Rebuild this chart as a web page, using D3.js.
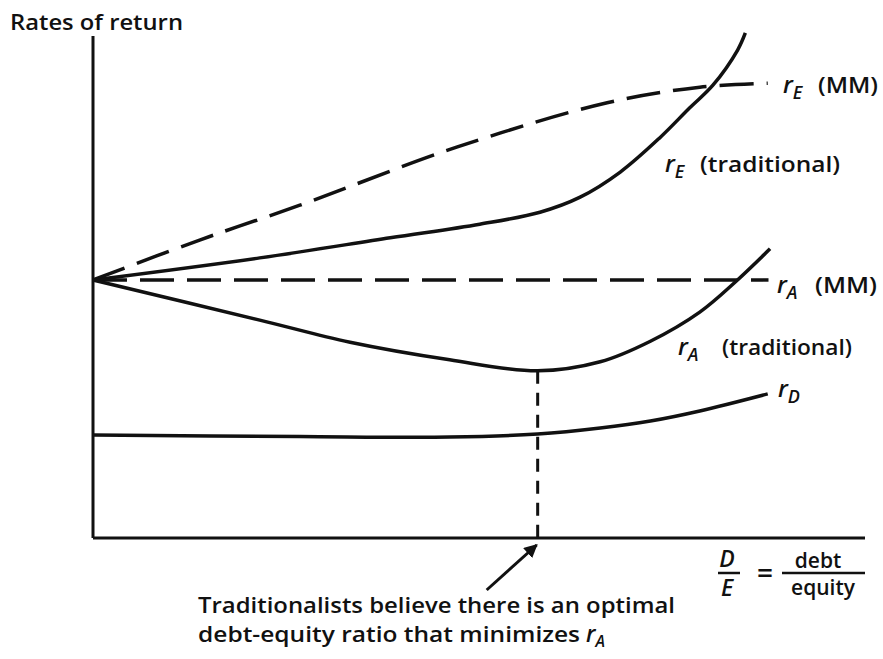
<!DOCTYPE html>
<html>
<head>
<meta charset="utf-8">
<script src="https://cdn.jsdelivr.net/npm/d3@7"></script>
<style>
  body { margin: 0; background: #fff; }
  svg { display: block; }
  text { font-family: "Open Sans", sans-serif; font-weight: 600; fill: #111; }
</style>
</head>
<body>
<svg id="chart" width="883" height="659"></svg>
<script>
// values, x = D/E (0-100), y = rate (0-100), arbitrary units
const rEMM = [[0, 51.4], [13.9, 59.4], [26.8, 66.3], [47.2, 77.9], [66.6, 86.7], [78.6, 89.8], [87.4, 90.6]];
const rETrad = [[0, 51.4], [21.6, 55.8], [38.5, 59.8], [50.1, 62.5], [57.9, 64.9], [63.1, 67.9], [68.3, 72.9], [73.4, 79.7], [77.3, 85.7], [80.3, 90.2], [83.5, 97.2], [84.5, 100.6]];
const rAMM = [[0, 51.4], [87.5, 51.4]];
const rATrad = [[0, 51.4], [21.6, 43.4], [33.3, 39.0], [46.2, 35.5], [57.6, 33.3], [65.7, 35.1], [72.2, 39.2], [78.6, 45.0], [83.2, 51.0], [87.7, 57.6]];
const rD = [[0, 20.5], [26.8, 20.2], [46.2, 20.1], [57.6, 20.7], [65.7, 21.9], [72.2, 23.3], [78.6, 25.3], [87.4, 28.7]];
const optimum = [57.6, 33.3];

const yTitle = 'Rates of return';
const noteLines = ['Traditionalists believe there is an optimal', 'debt-equity ratio that minimizes '];
const curveLabels = [
  { sub: 'E', note: '(MM)' },
  { sub: 'E', note: '(traditional)' },
  { sub: 'A', note: '(MM)' },
  { sub: 'A', note: '(traditional)' },
  { sub: 'D', note: '' }
];

const svg = d3.select('#chart');

const x = d3.scaleLinear().domain([0, 100]).range([93, 865]);
const y = d3.scaleLinear().domain([0, 100]).range([538, 36]);

const line = d3.line()
  .x(d => x(d[0]))
  .y(d => y(d[1]))
  .curve(d3.curveCatmullRom.alpha(0.5));

/* axes */
svg.append('line')
  .attr('x1', x(0)).attr('x2', x(0))
  .attr('y1', y(0)).attr('y2', y(100))
  .attr('stroke', '#111').attr('stroke-width', 3);
svg.append('line')
  .attr('x1', x(0)).attr('x2', x(100))
  .attr('y1', y(0)).attr('y2', y(0))
  .attr('stroke', '#111').attr('stroke-width', 3);

/* curves */
const series = [
  { data: rEMM, dash: '34,13' },
  { data: rETrad, dash: null },
  { data: rAMM, dash: '34,13' },
  { data: rATrad, dash: null },
  { data: rD, dash: null }
];

svg.selectAll('path.curve')
  .data(series)
  .join('path')
  .attr('class', 'curve')
  .attr('d', d => line(d.data))
  .attr('fill', 'none')
  .attr('stroke', '#111')
  .attr('stroke-width', 3.5)
  .attr('stroke-dasharray', d => d.dash);

// drop line from the minimum of rA
svg.append('line')
  .attr('x1', x(optimum[0])).attr('x2', x(optimum[0]))
  .attr('y1', y(optimum[1])).attr('y2', y(0))
  .attr('stroke', '#111').attr('stroke-width', 3)
  .attr('stroke-dasharray', '13,9');

/* labels */
const labelPos = [
  { x: 783, y: 93, nx: 818, w: 60 },
  { x: 665, y: 172, nx: 700, w: 140 },
  { x: 777, y: 293, nx: 815, w: 62 },
  { x: 678, y: 355, nx: 722, w: 130 },
  { x: 778, y: 397, nx: 0, w: 0 }
];

curveLabels.forEach((l, i) => {
  const p = labelPos[i];
  const t = svg.append('text').attr('x', p.x).attr('y', p.y);
  t.append('tspan').text('r').attr('font-style', 'italic').attr('font-size', 24);
  t.append('tspan').text(l.sub).attr('font-style', 'italic').attr('font-size', 18).attr('dy', 6);
  if (l.note) {
    svg.append('text')
      .attr('x', p.nx).attr('y', p.y)
      .attr('font-size', 22)
      .attr('textLength', p.w)
      .attr('lengthAdjust', 'spacingAndGlyphs')
      .text(l.note);
  }
});

svg.append('text')
  .attr('x', 10).attr('y', 30)
  .attr('font-size', 22)
  .attr('textLength', 173)
  .attr('lengthAdjust', 'spacingAndGlyphs')
  .text(yTitle);

/* D/E = debt/equity */
const frac = svg.append('g');
frac.append('text').attr('x', 727).attr('y', 567).attr('text-anchor', 'middle')
  .attr('font-size', 23).attr('font-style', 'italic').text('D');
frac.append('line').attr('x1', 718).attr('x2', 740).attr('y1', 573).attr('y2', 573)
  .attr('stroke', '#111').attr('stroke-width', 2.5);
frac.append('text').attr('x', 727).attr('y', 596).attr('text-anchor', 'middle')
  .attr('font-size', 23).attr('font-style', 'italic').text('E');
frac.append('text').attr('x', 765).attr('y', 583).attr('text-anchor', 'middle')
  .attr('font-size', 28).attr('font-weight', 700).text('=');
frac.append('text').attr('x', 818).attr('y', 568).attr('text-anchor', 'middle')
  .attr('font-size', 21).text('debt');
frac.append('line').attr('x1', 782).attr('x2', 865).attr('y1', 573).attr('y2', 573)
  .attr('stroke', '#111').attr('stroke-width', 2.5);
frac.append('text').attr('x', 823).attr('y', 595).attr('text-anchor', 'middle')
  .attr('font-size', 21).text('equity');

/* annotation */
svg.append('defs').append('marker')
  .attr('id', 'head')
  .attr('viewBox', '0 0 10 10')
  .attr('refX', 9).attr('refY', 5)
  .attr('markerWidth', 4.5).attr('markerHeight', 4.5)
  .attr('orient', 'auto')
  .append('path').attr('d', 'M0,0 L10,5 L0,10 Z').attr('fill', '#111');

svg.append('line')
  .attr('x1', x(optimum[0]) - 51).attr('y1', y(0) + 52)
  .attr('x2', x(optimum[0]) - 1).attr('y2', y(0) + 7)
  .attr('stroke', '#111').attr('stroke-width', 3)
  .attr('marker-end', 'url(#head)');

svg.append('text')
  .attr('x', 198).attr('y', 613)
  .attr('font-size', 21)
  .attr('textLength', 477)
  .attr('lengthAdjust', 'spacingAndGlyphs')
  .text(noteLines[0]);

svg.append('text')
  .attr('x', 198).attr('y', 642)
  .attr('font-size', 21)
  .attr('textLength', 382)
  .attr('lengthAdjust', 'spacingAndGlyphs')
  .text(noteLines[1].trim());

const rA = svg.append('text').attr('x', 586).attr('y', 642);
rA.append('tspan').text('r').attr('font-style', 'italic').attr('font-size', 23);
rA.append('tspan').text('A').attr('font-style', 'italic').attr('font-size', 16).attr('dy', 5);
</script>
</body>
</html>
